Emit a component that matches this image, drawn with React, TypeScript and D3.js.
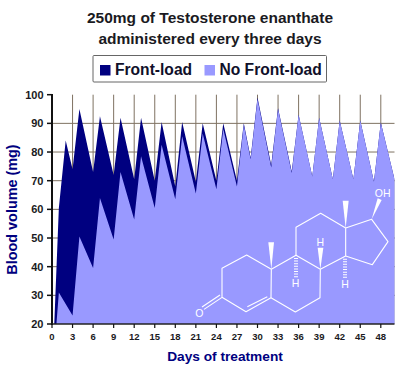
import React from "react";
import * as d3 from "d3";

const days = [0,1,2,3,4,6,7,9,10,12,13,15,16,18,19,21,22,24,25,27,28,29,30,32,33,35,36,38,39,41,42,44,45,47,48,50];
const frontLoad = [0,60.5,84,74,95,73,92.5,72,92,70.5,92,70,90.5,68,90.5,69.6,90,70,90,70,90,78,99,75.5,95.3,73.2,93,71.5,92,70.5,91,70.5,91,69.6,90.3,70.5];
const noFrontLoad = [0,31,27,23,50.5,39.5,64,49.5,73,56.5,78.5,60.5,82.5,63.5,85.5,65.5,86.5,67,88,68,89.5,77.5,98.5,74.6,95,72.7,93,71.5,92,70.5,91,70.5,91,69.6,90.3,70.5];
const xTicks = d3.range(0, 49, 3);
const yTicks = d3.range(20, 101, 10);
const gridY = [30,40,50,60,70,80,90];
const gridX = d3.range(3, 49, 3);
const titleLines = ["250mg of Testosterone enanthate", "administered every three days"];

const NAVY = "#000080";
const LIGHT = "#9999ff";
const GRID = "#7f7262";
const FONT = "'Liberation Sans', Arial, sans-serif";

const x = d3.scaleLinear().domain([0, 50]).range([52, 394.5]);
const y = d3.scaleLinear().domain([20, 100]).range([324, 94.7]);

const area = (vals: number[]) =>
  d3.area<number>()
    .x((_, i) => x(days[i]))
    .y0(y(0))
    .y1((d) => y(d))(vals) as string;

// steroid skeleton, traced in local units (3 units = 1 px)
const sx = (v: number) => 190 + v / 3;
const sy = (v: number) => 180 + v / 3;
const bonds = [
  [[96,352],[96,265],[170,225],[244,268],[243,353],[168,395],[96,352]],
  [[244,268],[318,226],[391,268],[390,353],[316,396],[243,353]],
  [[318,226],[318,142],[392,100],[467,144],[467,228],[391,268]],
  [[467,144],[545,118],[594,185],[547,254],[467,228]],
  [[172,380],[232,350]],
  [[96,352],[42,388]],
  [[90,345],[36,381]],
];
const wedges = [
  [[244,268],[235,187],[252,187]],
  [[467,144],[458,62],[476,62]],
  [[391,268],[383,203],[400,203]],
  [[545,118],[563,55],[575,60]],
];
const hashes = [[318,234,292],[465,236,296]];
const labels = [
  { t: "O", x: 28, y: 400 },
  { t: "H", x: 391, y: 186 },
  { t: "H", x: 317, y: 310 },
  { t: "H", x: 465, y: 314 },
  { t: "OH", x: 578, y: 39 },
];
const line = d3.line<number[]>().x((p) => sx(p[0])).y((p) => sy(p[1]));

export default function App() {
  return (
    <svg width={400} height={377} style={{ position: "absolute", left: 0, top: 0, background: "#fff", fontFamily: FONT }}>
      <defs>
        <clipPath id="plot"><rect x={52} y={94.7} width={342.5} height={229.3} /></clipPath>
      </defs>
      {titleLines.map((t, i) => (
        <text key={t} x={210} y={22.7 + i * 21.3} textAnchor="middle" fontSize={15.5} fontWeight="bold" fill="#1a1a22">{t}</text>
      ))}
      <rect x={93} y={55.5} width={233.5} height={26.5} fill="#fff" stroke="#666" strokeWidth={1} rx={1} />
      <rect x={100} y={65} width={10.5} height={10.5} fill={NAVY} />
      <text x={115} y={74.5} fontSize={15.6} fontWeight="bold" fill="#10102a">Front-load</text>
      <rect x={204.5} y={65} width={10.5} height={10.5} fill={LIGHT} />
      <text x={219.5} y={74.5} fontSize={15.6} fontWeight="bold" fill="#10102a">No Front-load</text>

      {gridY.map((v) => (
        <line key={v} x1={52} x2={394.5} y1={y(v)} y2={y(v)} stroke={GRID} strokeWidth={1} />
      ))}
      {gridX.map((v) => (
        <line key={v} x1={x(v)} x2={x(v)} y1={94.7} y2={324} stroke={GRID} strokeWidth={1} />
      ))}

      <g clipPath="url(#plot)">
        <path d={area(frontLoad)} fill={NAVY} />
        <path d={area(noFrontLoad)} fill={LIGHT} />
      </g>

      <g fill="none" stroke="#fff" strokeWidth={1.1} strokeLinejoin="round">
        {bonds.map((b, i) => <path key={i} d={line(b) as string} />)}
      </g>
      <g fill="#fff">
        {wedges.map((w, i) => <path key={i} d={line(w) + "Z"} />)}
      </g>
      {hashes.map(([hx, a, b], i) => (
        <line key={i} x1={sx(hx)} x2={sx(hx)} y1={sy(a)} y2={sy(b)} stroke="#fff" strokeWidth={4} strokeDasharray="1 1.6" />
      ))}
      {labels.map((l, i) => (
        <text key={i} x={sx(l.x)} y={sy(l.y)} dy="0.36em" textAnchor="middle" fontSize={10.5} fill="#fff">{l.t}</text>
      ))}

      <line x1={52} x2={52} y1={94} y2={325} stroke="#111" strokeWidth={2} />
      <line x1={51} x2={394.5} y1={324} y2={324} stroke="#222" strokeWidth={1.5} />
      {yTicks.map((v) => (
        <g key={v}>
          <line x1={47} x2={52} y1={y(v)} y2={y(v)} stroke="#111" strokeWidth={1.5} />
          <text x={43.5} y={y(v)} dy="0.36em" textAnchor="end" fontSize={11} fontWeight="bold" fill="#1a1a22">{v}</text>
        </g>
      ))}
      {xTicks.map((v) => (
        <g key={v}>
          <line x1={x(v)} x2={x(v)} y1={324} y2={328} stroke="#111" strokeWidth={1.2} />
          <text x={x(v)} y={340} textAnchor="middle" fontSize={9.5} fontWeight="bold" fill="#1a1a22">{v}</text>
        </g>
      ))}
      <text transform="translate(17,209.5) rotate(-90)" textAnchor="middle" fontSize={14.4} fontWeight="bold" fill={NAVY}>Blood volume (mg)</text>
      <text x={225} y={361} textAnchor="middle" fontSize={13.7} fontWeight="bold" fill={NAVY}>Days of treatment</text>
    </svg>
  );
}
